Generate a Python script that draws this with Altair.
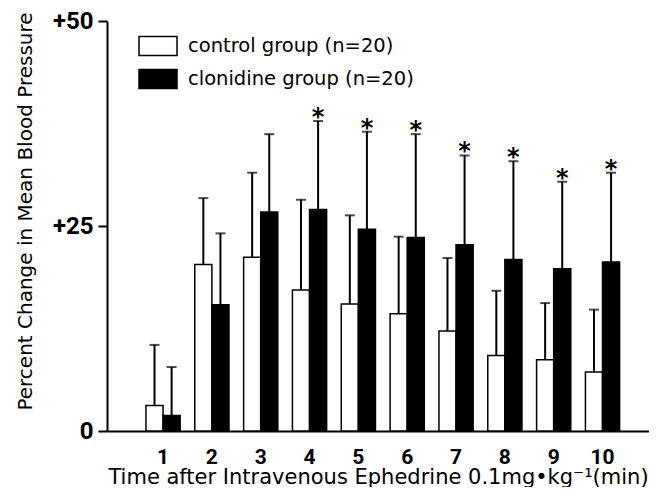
import altair as alt
import pandas as pd

minutes = ["1", "2", "3", "4", "5", "6", "7", "8", "9", "10"]
groups = ["control group (n=20)", "clonidine group (n=20)"]
control_mean = [3.1, 20.3, 21.2, 17.2, 15.5, 14.3, 12.2, 9.2, 8.7, 7.2]
control_sd = [7.4, 8.1, 10.3, 11.0, 10.8, 9.4, 8.9, 7.9, 6.9, 7.6]
clon_mean = [1.9, 15.4, 26.7, 27.0, 24.6, 23.6, 22.7, 20.9, 19.8, 20.6]
clon_sd = [5.9, 8.7, 9.5, 10.8, 11.9, 12.6, 10.9, 12.0, 10.6, 10.9]
significant = [False, False, False, True, True, True, True, True, True, True]

rows = []
for i, m in enumerate(minutes):
    rows.append({"minute": m, "group": groups[0], "mean": control_mean[i],
                 "top": control_mean[i] + control_sd[i], "star": ""})
    rows.append({"minute": m, "group": groups[1], "mean": clon_mean[i],
                 "top": clon_mean[i] + clon_sd[i], "star": "*" if significant[i] else ""})
df = pd.DataFrame(rows)

FONT = "DejaVu Sans"
NUMFONT = "Roboto"

x = alt.X("minute:N", sort=minutes,
          scale=alt.Scale(paddingInner=0.3, paddingOuter=0.7, align=0.57),
          axis=alt.Axis(title="Time after Intravenous Ephedrine 0.1mg\u2022kg\u207b\u00b9(min)",
                        labelAngle=0, ticks=False, labelPadding=15,
                        labelFontSize=21, labelFont=NUMFONT, labelFontWeight="bold",
                        labelColor="black",
                        titleFontSize=21, titleFont=FONT, titleFontWeight="normal",
                        titleColor="black", titlePadding=-1,
                        domainColor="black", domainWidth=2))
xo = alt.XOffset("group:N", sort=groups, scale=alt.Scale(paddingInner=0, paddingOuter=0))
yscale = alt.Scale(domain=[0, 50])

base = alt.Chart(df)

bars = base.mark_bar(stroke="black", strokeWidth=1.5).encode(
    x=x, xOffset=xo,
    y=alt.Y("mean:Q", scale=yscale,
            axis=alt.Axis(title="Percent Change in Mean Blood Pressure",
                          values=[0, 25, 50], grid=False,
                          labelExpr="datum.value > 0 ? '+' + datum.label : datum.label",
                          labelFontSize=24, labelFont=NUMFONT, labelFontWeight="bold",
                          labelColor="black",
                          labelPadding=5, tickSize=9, tickWidth=2, tickColor="black",
                          domainColor="black", domainWidth=2,
                          titleFontSize=20, titleFont=FONT, titleFontWeight="normal",
                          titleColor="black", titlePadding=17, titleY=190)),
    color=alt.Color("group:N", sort=groups,
                    scale=alt.Scale(domain=groups, range=["white", "black"]),
                    legend=alt.Legend(title=None, orient="none", legendX=31, legendY=5,
                                      symbolType="M-1,-0.5H1V0.5H-1Z", symbolSize=1444,
                                      symbolStrokeColor="black", symbolStrokeWidth=1.5,
                                      symbolOpacity=1, labelLimit=0,
                                      labelFont=FONT, labelFontSize=19.5, labelColor="black",
                                      labelOffset=10, rowPadding=-1)),
)

err = base.mark_rule(color="black", strokeWidth=2).encode(
    x=x, xOffset=xo, y=alt.Y("mean:Q", scale=yscale), y2="top:Q")

caps = base.mark_tick(color="black", thickness=2, size=10).encode(
    x=x, xOffset=xo, y=alt.Y("top:Q", scale=yscale))

stars = base.mark_text(fontSize=24, font=FONT, fontWeight="bold", color="black",
                       baseline="alphabetic", dy=4).encode(
    x=x, xOffset=xo, y=alt.Y("top:Q", scale=yscale), text="star:N")

chart = alt.layer(bars, err, caps, stars).properties(
    width=542, height=410,
    autosize=alt.AutoSizeParams(type="none"),
    padding={"left": 99, "top": 13, "right": 0, "bottom": 56},
).configure_view(stroke=None)

chart.save("out.html", embed_options={"renderer": "svg", "actions": False})
